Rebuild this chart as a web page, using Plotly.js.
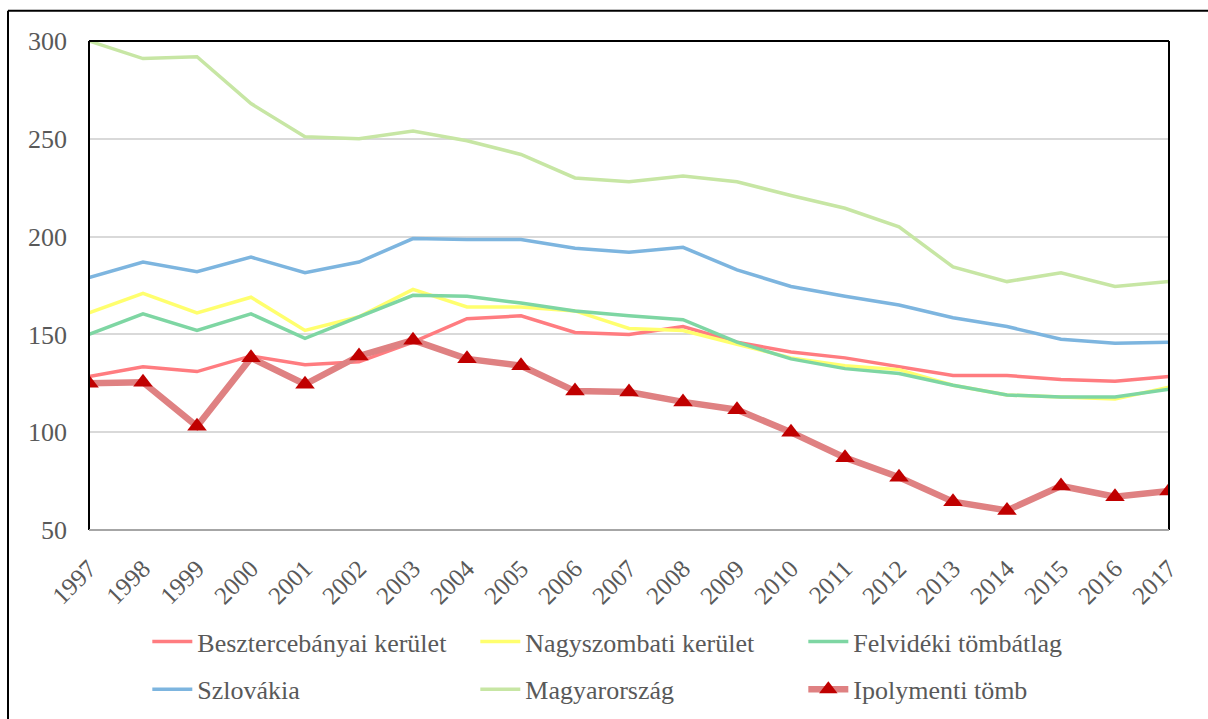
<!DOCTYPE html>
<html>
<head>
<meta charset="utf-8">
<script src="https://cdn.plot.ly/plotly-3.0.1.min.js"></script>
<style>
  body { margin: 0; background: #fff; }
  #graph { width: 1208px; height: 719px; }
</style>
</head>
<body>
<div id="graph"></div>
<script>
// years on the x axis
var years = ["1997","1998","1999","2000","2001","2002","2003","2004","2005","2006","2007",
             "2008","2009","2010","2011","2012","2013","2014","2015","2016","2017"];

// series
var besztercebanyai = [128.5,133.5,131,139,134.5,136,146,158,159.5,151,150,154,146,141,138,133.5,129,129,127,126,128.5];
var nagyszombati    = [161,171,161,169,152,159,173,164,164,162,153,152,145,138,134,132,124,119,118,117,123];
var felvideki       = [150,160.5,152,160.5,148,159,170,169.5,166,162,159.5,157.5,146,137.5,132.5,130,124,119,118,118,122];
var szlovakia       = [179,187,182,189.5,181.5,187,199,198.5,198.5,194,192,194.5,183,174.5,169.5,165,158.5,154,147.5,145.5,146];
var magyarorszag    = [300,291,292,268,251,250,254,249,242,230,228,231,228,221,214.5,205,184.5,177,181.5,174.5,177];
var ipolymenti      = [125,125.5,103,138,124.5,139,147,137.5,134,121,120.5,115.5,111.5,100,87,77,64.5,60,72.5,67,70];

var yTicks = [50,100,150,200,250,300];

var serif = "Liberation Serif";

function lineTrace(name, y, color, legendId) {
    return {
        x: years, y: y, name: name, legend: legendId,
        type: 'scatter', mode: 'lines',
        line: { color: color, width: 3.5 }
    };
}

var data = [
    lineTrace("Besztercebányai kerület", besztercebanyai, "#ff7c80", "legend"),
    lineTrace("Nagyszombati kerület", nagyszombati, "#ffff6e", "legend"),
    lineTrace("Felvidéki tömbátlag", felvideki, "#7ed6a3", "legend"),
    lineTrace("Szlovákia", szlovakia, "#7db5df", "legend2"),
    lineTrace("Magyarország", magyarorszag, "#c7e6a4", "legend2"),
    {
        x: years, y: ipolymenti, name: "Ipolymenti tömb", legend: "legend2",
        type: 'scatter', mode: 'lines+markers',
        line: { color: "#df8182", width: 6.5 },
        marker: { symbol: 'triangle-up', size: 17, color: "#c00000" }
    }
];

// one legend per row so the two rows can sit where the reference has them
function legendRow(yPos) {
    return {
        orientation: 'h',
        x: 0.054, xanchor: 'left',
        y: yPos, yanchor: 'middle',
        entrywidth: 273,
        entrywidthmode: 'pixels',
        itemwidth: 40,
        bgcolor: 'rgba(0,0,0,0)',
        font: { family: serif, size: 26, color: "#595959" },
        traceorder: 'normal'
    };
}

var layout = {
    width: 1208,
    height: 719,
    margin: { l: 89, r: 39, t: 41, b: 189, autoexpand: false },
    paper_bgcolor: "#fff",
    plot_bgcolor: "#fff",
    font: { family: serif, color: "#595959", size: 26 },
    showlegend: true,
    xaxis: {
        type: 'category',
        range: [0, 20],
        tickangle: -45,
        showgrid: false,
        ticks: '',
        showline: false,
        zeroline: false,
        ticklabelstandoff: 18,
        tickfont: { family: serif, size: 25, color: "#595959" }
    },
    yaxis: {
        range: [50, 300],
        tickvals: yTicks,
        showgrid: true,
        gridcolor: "#d9d9d9",
        gridwidth: 1.5,
        zeroline: false,
        showline: false,
        ticks: '',
        ticklabelstandoff: 21,
        tickfont: { family: serif, size: 26, color: "#595959" }
    },
    legend: legendRow(-0.228),
    legend2: legendRow(-0.326),
    shapes: [
        // plot box: black left, top, right; grey bottom
        { type: 'line', xref: 'paper', yref: 'paper', x0: 0, x1: 0, y0: 0, y1: 1, line: { color: '#000', width: 2 } },
        { type: 'line', xref: 'paper', yref: 'paper', x0: 0, x1: 1, y0: 1, y1: 1, line: { color: '#000', width: 2 } },
        { type: 'line', xref: 'paper', yref: 'paper', x0: 1, x1: 1, y0: 0, y1: 1, line: { color: '#000', width: 2 } },
        { type: 'line', xref: 'paper', yref: 'paper', x0: 0, x1: 1, y0: 0, y1: 0, line: { color: '#a6a6a6', width: 2 } },
        // outer frame (left and top)
        { type: 'line', xref: 'paper', yref: 'paper', x0: -0.075, x1: -0.075, y0: -0.4, y1: 1.062, line: { color: '#000', width: 2 } },
        { type: 'line', xref: 'paper', yref: 'paper', x0: -0.075, x1: 1.04, y0: 1.062, y1: 1.062, line: { color: '#000', width: 2 } }
    ]
};

Plotly.newPlot("graph", data, layout, { displayModeBar: false });
</script>
</body>
</html>
